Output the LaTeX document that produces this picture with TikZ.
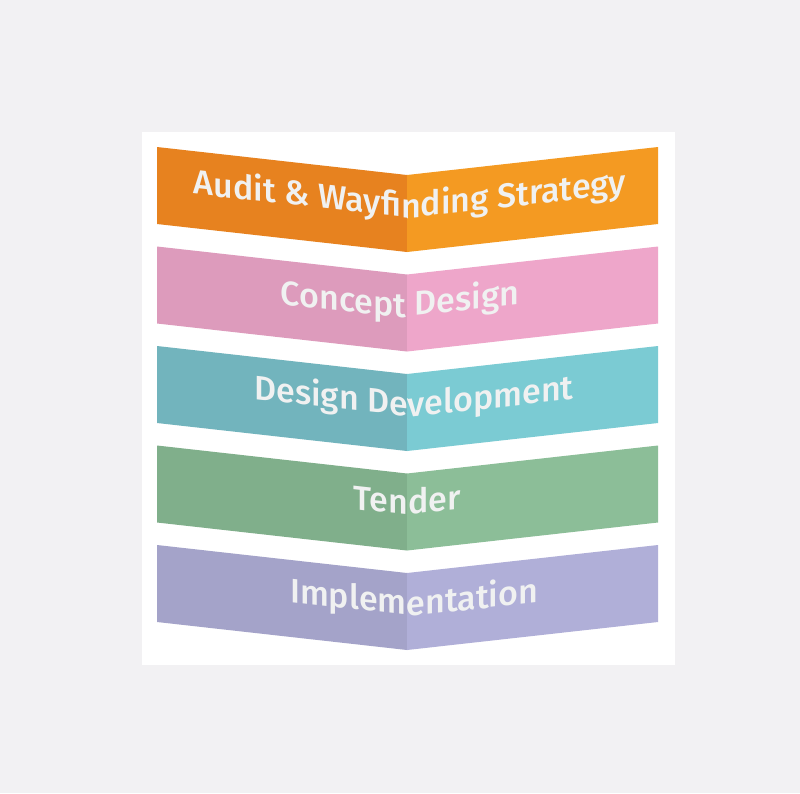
\documentclass[tikz,border=0pt]{standalone}
\usepackage{fontspec}
\usepackage{xcolor}
\usepackage{tikz}
\newfontfamily\bandfont{Fira Sans Medium}

\definecolor{pageGrey}{HTML}{F2F1F3}
\definecolor{auditL}{HTML}{E7821F}
\definecolor{auditR}{HTML}{F49A22}
\definecolor{conceptL}{HTML}{DD9BBC}
\definecolor{conceptR}{HTML}{EEA6CA}
\definecolor{developL}{HTML}{72B4BD}
\definecolor{developR}{HTML}{7BCBD3}
\definecolor{tenderL}{HTML}{80AF8B}
\definecolor{tenderR}{HTML}{8CBE98}
\definecolor{implL}{HTML}{A4A3C9}
\definecolor{implR}{HTML}{B0AFD8}
\definecolor{labelWhite}{HTML}{F0F1F1}

\begin{document}
\begin{tikzpicture}[inner sep=0pt,
  bandlabel/.style={anchor=base, transform shape, text=labelWhite, font=\bandfont\fontsize{34}{40}\selectfont},
  foldleft/.style={bandlabel, yslant=-0.112},
  foldright/.style={bandlabel, yslant=0.1116}]
\useasboundingbox (0pt,0pt) rectangle (800pt,-793pt);
\fill [pageGrey] (0pt,0pt) rectangle (800pt,-793pt);
\fill [white] (142pt,-132pt) rectangle (675pt,-665pt);

% Audit & Wayfinding Strategy
\path [fill=auditL] (157pt,-147pt)--(407pt,-175pt)--(407pt,-252pt)--(157pt,-224pt)--cycle;
\path [fill=auditR] (407pt,-175pt)--(658pt,-147pt)--(658pt,-224pt)--(407pt,-252pt)--cycle;
\begin{scope}
\clip (157pt,-147pt)--(407pt,-175pt)--(407pt,-252pt)--(157pt,-224pt)--cycle;
\node (n0) [foldleft, at={(410pt,-218pt)}] {Audit \& Wayfinding Strategy};
\end{scope}
\begin{scope}
\clip (407pt,-175pt)--(658pt,-147pt)--(658pt,-224pt)--(407pt,-252pt)--cycle;
\node (n1) [foldright, at={(410pt,-218pt)}] {Audit \& Wayfinding Strategy};
\end{scope}

% Concept Design
\path [fill=conceptL] (157pt,-246.5pt)--(407pt,-274.5pt)--(407pt,-351.5pt)--(157pt,-323.5pt)--cycle;
\path [fill=conceptR] (407pt,-274.5pt)--(658pt,-246.5pt)--(658pt,-323.5pt)--(407pt,-351.5pt)--cycle;
\begin{scope}
\clip (157pt,-246.5pt)--(407pt,-274.5pt)--(407pt,-351.5pt)--(157pt,-323.5pt)--cycle;
\node (n2) [foldleft, at={(400pt,-317.5pt)}] {Concept Design};
\end{scope}
\begin{scope}
\clip (407pt,-274.5pt)--(658pt,-246.5pt)--(658pt,-323.5pt)--(407pt,-351.5pt)--cycle;
\node (n3) [foldright, at={(400pt,-317.5pt)}] {Concept Design};
\end{scope}

% Design Development
\path [fill=developL] (157pt,-346pt)--(407pt,-374pt)--(407pt,-451pt)--(157pt,-423pt)--cycle;
\path [fill=developR] (407pt,-374pt)--(658pt,-346pt)--(658pt,-423pt)--(407pt,-451pt)--cycle;
\begin{scope}
\clip (157pt,-346pt)--(407pt,-374pt)--(407pt,-451pt)--(157pt,-423pt)--cycle;
\node (n4) [foldleft, at={(414pt,-417pt)}] {Design Development};
\end{scope}
\begin{scope}
\clip (407pt,-374pt)--(658pt,-346pt)--(658pt,-423pt)--(407pt,-451pt)--cycle;
\node (n5) [foldright, at={(414pt,-417pt)}] {Design Development};
\end{scope}

% Tender
\path [fill=tenderL] (157pt,-445.5pt)--(407pt,-473.5pt)--(407pt,-550.5pt)--(157pt,-522.5pt)--cycle;
\path [fill=tenderR] (407pt,-473.5pt)--(658pt,-445.5pt)--(658pt,-522.5pt)--(407pt,-550.5pt)--cycle;
\begin{scope}
\clip (157pt,-445.5pt)--(407pt,-473.5pt)--(407pt,-550.5pt)--(157pt,-522.5pt)--cycle;
\node (n6) [foldleft, at={(407pt,-515pt)}] {Tender};
\end{scope}
\begin{scope}
\clip (407pt,-473.5pt)--(658pt,-445.5pt)--(658pt,-522.5pt)--(407pt,-550.5pt)--cycle;
\node (n7) [foldright, at={(407pt,-515pt)}] {Tender};
\end{scope}

% Implementation
\path [fill=implL] (157pt,-545pt)--(407pt,-573pt)--(407pt,-650pt)--(157pt,-622pt)--cycle;
\path [fill=implR] (407pt,-573pt)--(658pt,-545pt)--(658pt,-622pt)--(407pt,-650pt)--cycle;
\begin{scope}
\clip (157pt,-545pt)--(407pt,-573pt)--(407pt,-650pt)--(157pt,-622pt)--cycle;
\node (n8) [foldleft, at={(414pt,-616pt)}] {Implementation};
\end{scope}
\begin{scope}
\clip (407pt,-573pt)--(658pt,-545pt)--(658pt,-622pt)--(407pt,-650pt)--cycle;
\node (n9) [foldright, at={(414pt,-616pt)}] {Implementation};
\end{scope}
\end{tikzpicture}
\end{document}
